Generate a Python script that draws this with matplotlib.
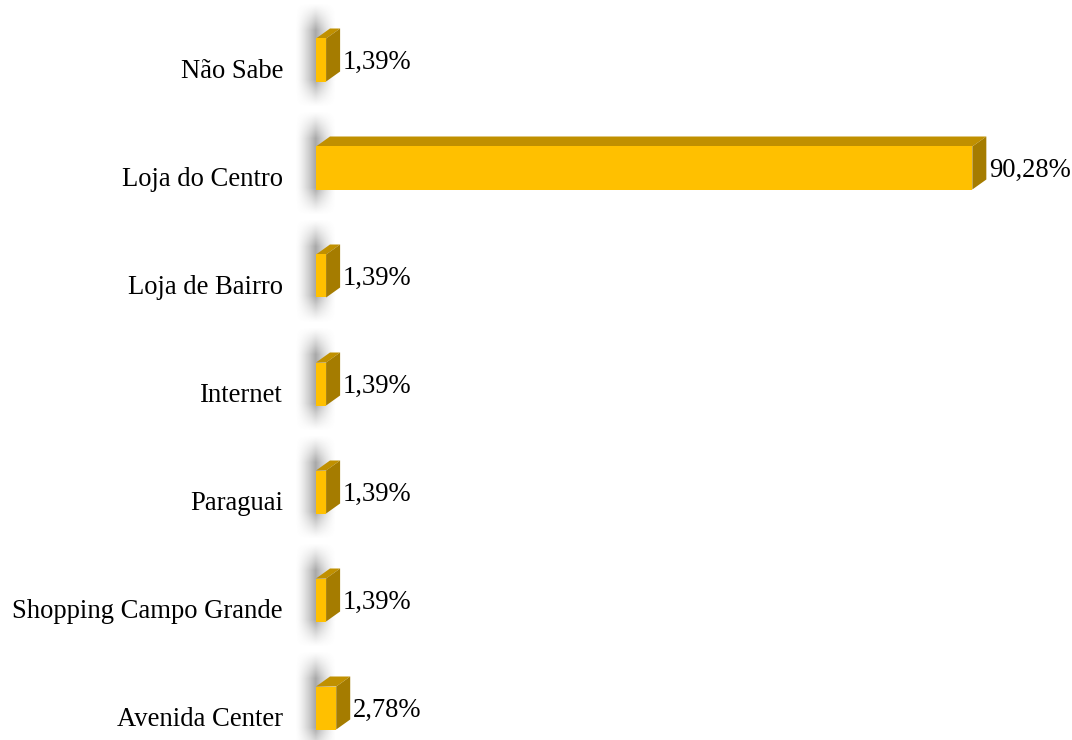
import numpy as np
import matplotlib
matplotlib.use("Agg")
import matplotlib.pyplot as plt
from matplotlib.patches import Polygon

# data (bottom to top)
categories = ["Avenida Center", "Shopping Campo Grande", "Paraguai", "Internet",
              "Loja de Bairro", "Loja do Centro", "Não Sabe"]
values = [2.78, 1.39, 1.39, 1.39, 1.39, 90.28, 1.39]
labels = ["2,78%", "1,39%", "1,39%", "1,39%", "1,39%", "90,28%", "1,39%"]

FRONT = "#FFC000"
TOP = "#C09000"
SIDE = "#A57C00"

plt.rcParams["font.family"] = ["Liberation Serif", "DejaVu Serif"]

W, H = 1072, 740
PX = 7.27          # pixels per percent
fig = plt.figure(figsize=(W / 100, H / 100), dpi=100)
ax = fig.add_axes([316 / W, 0, (W - 316) / W, 1])
ax.set_xlim(0, (W - 316) / PX)
ax.set_ylim(-24 / 108, (H - 24) / 108)
ax.axis("off")

dx = 14 / PX       # 3D depth in x units
dy = 10 / 108      # 3D depth in y units
h = 43 / 108       # front face height
off = 8 / 108      # front face lifted above category centre
FS = 19.2


def wall_shadow(yc):
    xs = np.linspace(-5, 5, 100)
    ys = np.linspace(-0.48, 0.48, 120)
    X, Y = np.meshgrid(xs, ys)
    ax_ = np.clip(1 - np.abs(X + 0.1) / 2.8, 0, 1) ** 1.4
    ay_ = np.clip((0.48 - np.abs(Y)) / 0.25, 0, 1) ** 1.2
    a = ax_ * ay_ * 0.62
    img = np.zeros((len(ys), len(xs), 4))
    img[..., :3] = 0.45
    img[..., 3] = a
    ax.imshow(img, extent=(-5, 5, yc - 0.48, yc + 0.48), origin="lower",
              aspect="auto", zorder=1, clip_on=False, interpolation="bilinear")


for i, (v, lab) in enumerate(zip(values, labels)):
    y0 = i + off - h / 2
    y1 = i + off + h / 2
    wall_shadow(i + off + dy / 2)
    ax.add_patch(Polygon([(0, y1), (v, y1), (v + dx, y1 + dy), (dx, y1 + dy)],
                         closed=True, fc=TOP, ec="none", zorder=3))
    ax.add_patch(Polygon([(v, y0), (v + dx, y0 + dy), (v + dx, y1 + dy), (v, y1)],
                         closed=True, fc=SIDE, ec="none", zorder=3))
    ax.add_patch(Polygon([(0, y0), (v, y0), (v, y1), (0, y1)],
                         closed=True, fc=FRONT, ec="none", zorder=4))
    ax.text(v + dx + 3 / PX, i + off - 2 / 108, lab, fontsize=FS,
            ha="left", va="center", zorder=5)
    ax.text(-33 / PX, i - 3 / 108, categories[i], fontsize=FS, ha="right",
            va="center", clip_on=False)

fig.savefig("out.png", dpi=100)
